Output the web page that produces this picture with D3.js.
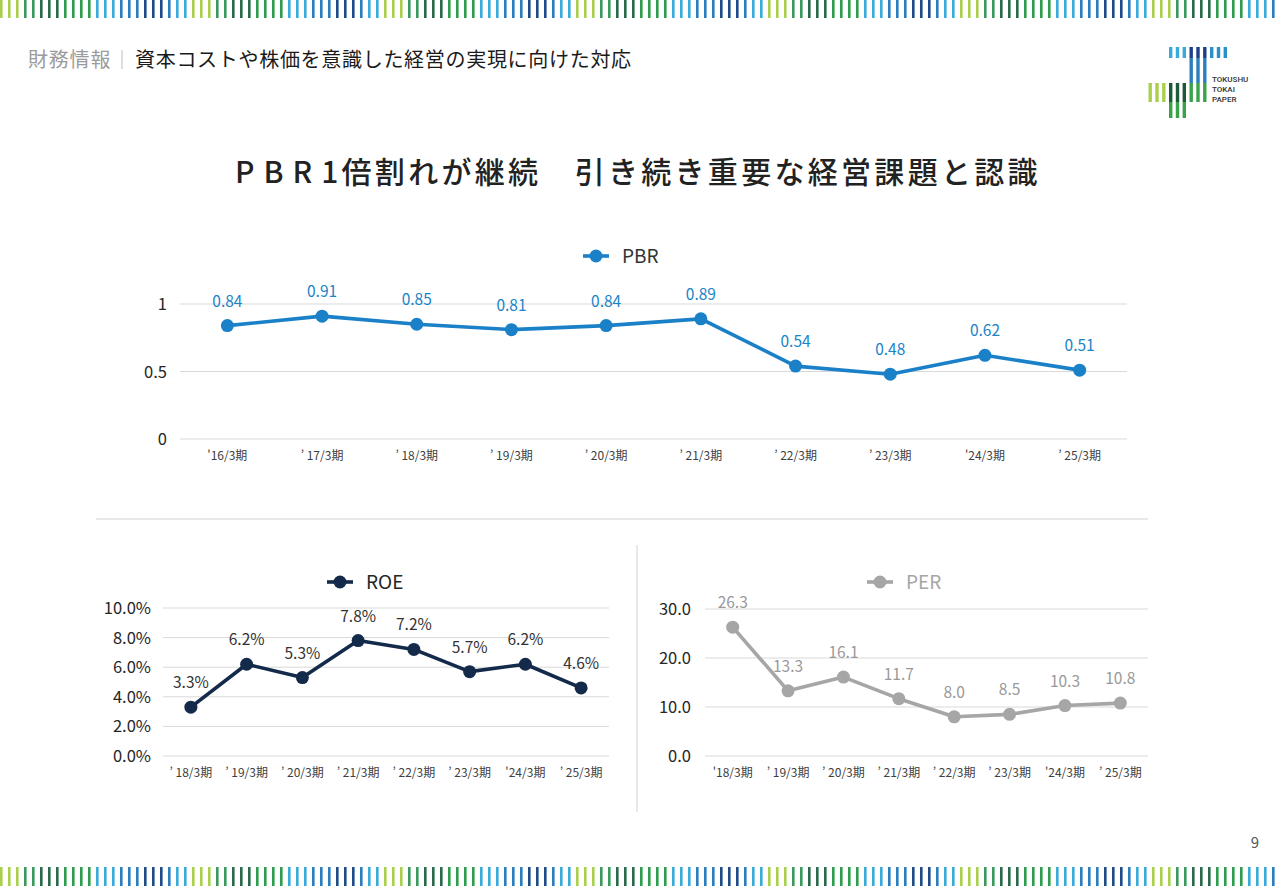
<!DOCTYPE html>
<html lang="ja">
<head>
<meta charset="utf-8">
<title>PBR / ROE / PER</title>
<script src="https://cdn.jsdelivr.net/npm/d3@7"></script>
<style>
  html, body { margin: 0; padding: 0; background: #fff; }
  svg { display: block; font-family: "Noto Sans CJK JP", "Noto Sans", sans-serif; }
  .grid line { stroke: #d9d9d9; stroke-width: 1; }
  .tick-y { font-size: 16.5px; fill: #262626; }
  .tick-x { font-size: 12px; fill: #404040; }
</style>
</head>
<body>
<script>
// ---- data ----
var pbrYears = ["'16/3期", "’ 17/3期", "’ 18/3期", "’ 19/3期", "’ 20/3期", "’ 21/3期", "’ 22/3期", "’ 23/3期", "'24/3期", "’ 25/3期"];
var pbrValues = [0.84, 0.91, 0.85, 0.81, 0.84, 0.89, 0.54, 0.48, 0.62, 0.51];
var pbrTicks = [0, 0.5, 1];

var roeYears = ["’ 18/3期", "’ 19/3期", "’ 20/3期", "’ 21/3期", "’ 22/3期", "’ 23/3期", "'24/3期", "’ 25/3期"];
var roeValues = [3.3, 6.2, 5.3, 7.8, 7.2, 5.7, 6.2, 4.6];
var roeTicks = [0, 2, 4, 6, 8, 10];

var perYears = ["'18/3期", "’ 19/3期", "’ 20/3期", "’ 21/3期", "’ 22/3期", "’ 23/3期", "'24/3期", "’ 25/3期"];
var perValues = [26.3, 13.3, 16.1, 11.7, 8.0, 8.5, 10.3, 10.8];
var perTicks = [0, 10, 20, 30];

// stripe decoration colours (one period)
var stripeColors = ["#a9cf4e", "#a9cf4e", "#a9cf4e", "#3a9a5c", "#3a9a5c",
  "#2a6b4c", "#2a6b4c", "#2a6b4c", "#2e9d4d", "#2e9d4d", "#2e9d4d", "#2e9d4d",
  "#3aaad9", "#3aaad9", "#3aaad9", "#2b7fbf", "#2b7fbf", "#2b7fbf",
  "#1d4c86", "#1d4c86", "#1d4c86", "#2b7fbf", "#3aaad9", "#3aaad9"];

var W = 1280, H = 886;
var svg = d3.select("body").append("svg").attr("width", W).attr("height", H);

// ---- stripes top & bottom ----
function stripes(y0, h) {
  var n = Math.ceil(W / 8) + 1;
  svg.append("g").selectAll("rect")
    .data(d3.range(n))
    .enter().append("rect")
    .attr("x", function(i) { return i * 8; })
    .attr("y", y0)
    .attr("width", 2.6)
    .attr("height", h)
    .attr("fill", function(i) { return stripeColors[i % stripeColors.length]; });
}
stripes(0, 18);
stripes(867, 19);

// ---- logo ----
var logo = svg.append("g");
function logoBars(x0, y0, h, colors) {
  logo.append("g").selectAll("rect").data(colors).enter().append("rect")
    .attr("x", function(d, i) { return x0 + i * 6.8; })
    .attr("y", y0).attr("width", 3.4).attr("height", h)
    .attr("fill", function(d) { return d; });
}
logoBars(1169, 47, 11, ["#3aaad9", "#3aaad9", "#3aaad9"]);
logoBars(1189.5, 47, 11, ["#1d3f8a", "#1d3f8a", "#1d3f8a"]);
logoBars(1210, 47, 11, ["#2b8fc9", "#2b8fc9", "#2b8fc9"]);
logoBars(1189.5, 58, 25, ["#2b7fbf", "#2b7fbf", "#2b7fbf"]);
logoBars(1148.5, 83, 19, ["#a9cf4e", "#a9cf4e", "#a9cf4e"]);
logoBars(1169, 83, 19, ["#1f5a38", "#1f5a38", "#1f5a38"]);
logoBars(1189.5, 83, 19, ["#3aa34a", "#3aa34a", "#3aa34a"]);
logoBars(1169, 102, 16, ["#3aa34a", "#3aa34a", "#3aa34a"]);
logo.selectAll("text.logo").data(["TOKUSHU", "TOKAI", "PAPER"]).enter().append("text")
  .attr("x", 1212).attr("y", function(d, i) { return 82 + i * 10; })
  .attr("font-size", 8).attr("font-weight", 500).attr("font-family", "Roboto, sans-serif").attr("fill", "#333")
  .text(function(d) { return d; });

// ---- header ----
svg.append("text").attr("x", 28).attr("y", 67).attr("font-size", 20).attr("letter-spacing", 0.8)
  .attr("fill", "#9b9b9b").text("財務情報");
svg.append("line").attr("x1", 122).attr("x2", 122).attr("y1", 50).attr("y2", 69)
  .attr("stroke", "#c8c8c8").attr("stroke-width", 1.2);
svg.append("text").attr("x", 135).attr("y", 67).attr("font-size", 20).attr("letter-spacing", 0.7)
  .attr("fill", "#1a1a1a").text("資本コストや株価を意識した経営の実現に向けた対応");

// ---- title ----
var title = svg.append("text").attr("x", 235).attr("y", 183)
  .attr("font-size", 30).attr("font-weight", 500).attr("fill", "#222");
title.append("tspan").attr("letter-spacing", 9).text("PBR");
title.append("tspan").attr("letter-spacing", 3.3).text("1倍割れが継続　引き続き重要な経営課題と認識");

// ---- separators ----
svg.append("line").attr("x1", 96).attr("x2", 1148).attr("y1", 519).attr("y2", 519)
  .attr("stroke", "#e8e8e8").attr("stroke-width", 2);
svg.append("line").attr("x1", 637).attr("x2", 637).attr("y1", 545).attr("y2", 812)
  .attr("stroke", "#e8e8e8").attr("stroke-width", 2);

// ---- generic line chart ----
function lineChart(o) {
  var g = svg.append("g");
  var x = d3.scaleBand().domain(o.cats).range([o.x0, o.x1]);
  var y = d3.scaleLinear().domain(o.domain).range([o.y0, o.y1]);
  var cx = function(d, i) { return x(o.cats[i]) + x.bandwidth() / 2; };

  // grid
  g.append("g").attr("class", "grid").selectAll("line").data(o.ticks).enter().append("line")
    .attr("x1", o.x0).attr("x2", o.x1)
    .attr("y1", function(d) { return y(d); }).attr("y2", function(d) { return y(d); });

  // y labels
  g.append("g").selectAll("text").data(o.ticks).enter().append("text")
    .attr("class", "tick-y").attr("text-anchor", "end")
    .attr("x", o.yLabelX).attr("y", function(d) { return y(d) + 6; })
    .text(o.fmt);

  // x labels
  g.append("g").selectAll("text").data(o.cats).enter().append("text")
    .attr("class", "tick-x").attr("text-anchor", "middle")
    .attr("x", function(d) { return x(d) + x.bandwidth() / 2; })
    .attr("y", o.y0 + 21)
    .text(function(d) { return d; });

  // line + markers
  var line = d3.line().x(cx).y(function(d) { return y(d); });
  g.append("path").datum(o.values).attr("d", line)
    .attr("fill", "none").attr("stroke", o.color).attr("stroke-width", 3.6).attr("stroke-linejoin", "round");
  g.append("g").selectAll("circle").data(o.values).enter().append("circle")
    .attr("cx", cx).attr("cy", function(d) { return y(d); }).attr("r", 6.5).attr("fill", o.color);

  // data labels
  g.append("g").selectAll("text").data(o.values).enter().append("text")
    .attr("text-anchor", "middle").attr("font-size", 15.5).attr("fill", o.labelColor)
    .attr("x", cx).attr("y", function(d) { return y(d) - 19; })
    .text(o.labelFmt);

  // legend
  var lg = g.append("g").attr("transform", "translate(" + o.legX + "," + o.legY + ")");
  lg.append("line").attr("x1", -13).attr("x2", 13).attr("stroke", o.color).attr("stroke-width", 3.6);
  lg.append("circle").attr("r", 6.5).attr("fill", o.color);
  lg.append("text").attr("x", 26).attr("y", 7).attr("font-size", 19).attr("fill", o.legColor).text(o.name);
}

lineChart({
  name: "PBR", cats: pbrYears, values: pbrValues, ticks: pbrTicks, domain: [0, 1],
  x0: 180, x1: 1127, y0: 439, y1: 304, yLabelX: 167,
  color: "#1a80c8", labelColor: "#1a84c7", legColor: "#333",
  fmt: function(d) { return d === 0 || d === 1 ? String(d) : d3.format(".1f")(d); },
  labelFmt: function(d) { return d3.format(".2f")(d); },
  legX: 596, legY: 256
});

lineChart({
  name: "ROE", cats: roeYears, values: roeValues, ticks: roeTicks, domain: [0, 10],
  x0: 163, x1: 609, y0: 756, y1: 608, yLabelX: 151,
  color: "#132a4a", labelColor: "#333", legColor: "#262626",
  fmt: function(d) { return d3.format(".1f")(d) + "%"; },
  labelFmt: function(d) { return d3.format(".1f")(d) + "%"; },
  legX: 340, legY: 582
});

lineChart({
  name: "PER", cats: perYears, values: perValues, ticks: perTicks, domain: [0, 30],
  x0: 705, x1: 1148, y0: 756, y1: 609, yLabelX: 691,
  color: "#a6a6a6", labelColor: "#999", legColor: "#a6a6a6",
  fmt: function(d) { return d3.format(".1f")(d); },
  labelFmt: function(d) { return d3.format(".1f")(d); },
  legX: 880, legY: 582
});

// page number
svg.append("text").attr("x", 1259).attr("y", 848).attr("text-anchor", "end")
  .attr("font-size", 15).attr("fill", "#555").text("9");
</script>
</body>
</html>
